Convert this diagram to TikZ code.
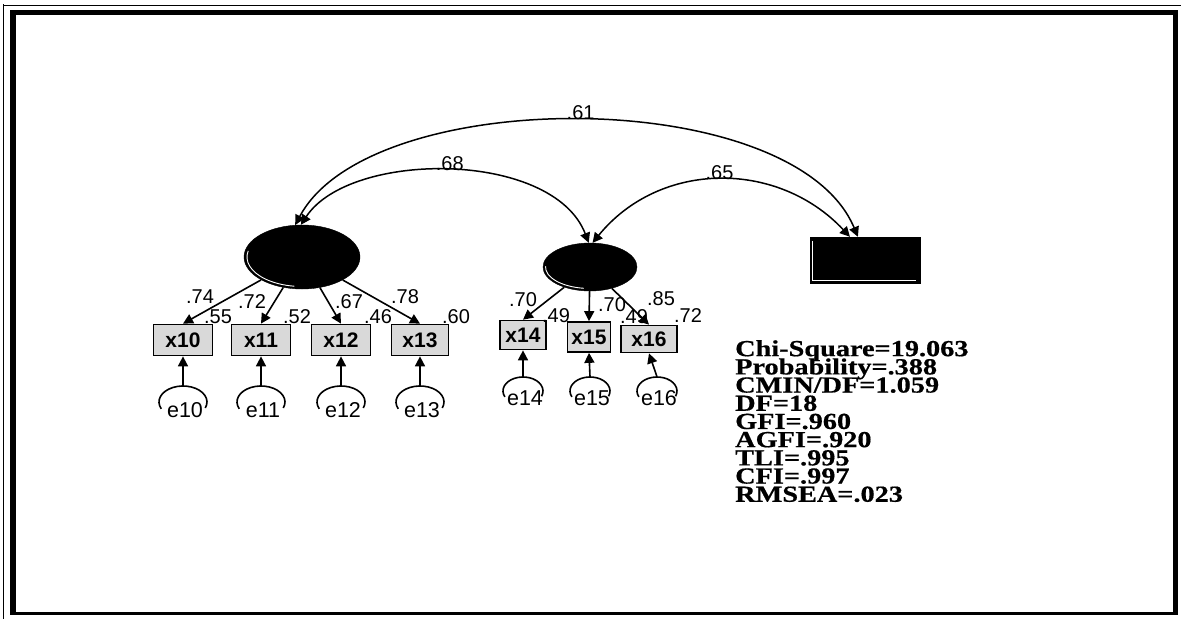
\documentclass[tikz,border=0pt]{standalone}
\usepackage{fontspec}
\setmainfont{Liberation Sans}
\newfontfamily\fitfont[FakeStretch=1.23,FakeBold=0.6]{Liberation Serif}
\newcommand\fitstyle{\fitfont\bfseries\fontsize{23}{18.2}\selectfont\lineskiplimit=-100pt\lineskip=0pt\relax}
\usetikzlibrary{arrows.meta,shapes.geometric}

\begin{document}
\begin{tikzpicture}[x=1pt,y=-1pt,
  latent/.style={ellipse, fill=black, draw=black, inner sep=0pt},
  obs/.style={rectangle, draw=black, line width=1.7pt, fill=gray!30, inner sep=0pt,
    font=\bfseries\fontsize{21}{21}\selectfont},
  errn/.style={ellipse, inner sep=0pt},
  elab/.style={inner sep=0pt, font=\fontsize{21.5}{21.5}\selectfont},
  coef/.style={inner sep=0pt, font=\fontsize{20}{20}\selectfont},
  pathar/.style={line width=1.6pt, -{Triangle[length=10pt,width=10pt]}},
  covar/.style={line width=1.5pt, {Triangle[length=10pt,width=10pt]}-{Triangle[length=10pt,width=10pt]}},
  errarc/.style={line width=1.6pt}
]
\useasboundingbox (0,0) rectangle (1181,619);
\fill[white] (0,0) rectangle (1181,619);

% window frame
\draw[line width=1.3pt] (3.5,4) -- (3.5,619);
\draw[line width=1.3pt] (3,5.5) -- (1181,5.5);
\draw[line width=5.5pt] (13,10) -- (13,615);
\draw[line width=5pt] (10,12.5) -- (1178,12.5);
\draw[line width=4.5pt] (1175.5,10) -- (1175.5,615);
\draw[line width=2.2pt] (10,613.5) -- (1178,613.5);

% latent variables
\node[latent, minimum width=116, minimum height=64] (F1) at (302,257) {};
\node[latent, minimum width=94, minimum height=48] (F2) at (590,267) {};
\node[rectangle, fill=black, draw=black, inner sep=0pt, minimum width=110, minimum height=46] (F3) at (865,260) {};
\draw[white, line width=0.9pt] (F1.center) ++(-168:55 and 29.5) arc[start angle=-168, end angle=-262, x radius=55, y radius=29.5];
\draw[white, line width=0.9pt] (F2.center) ++(-178:44.5 and 21.5) arc[start angle=-178, end angle=-262, x radius=44.5, y radius=21.5];
\draw[white, line width=0.8pt] ([shift={(2.5,4)}]F3.north west) -- ([shift={(2.5,-2.5)}]F3.south west) -- ([shift={(-4,-2.5)}]F3.south east);

% observed indicators
\node[obs, minimum width=59, minimum height=31] (x10) at (183,340) {x10};
\node[obs, minimum width=59, minimum height=31] (x11) at (261,340) {x11};
\node[obs, minimum width=59, minimum height=31] (x12) at (341,340) {x12};
\node[obs, minimum width=57, minimum height=31] (x13) at (420,340) {x13};
\node[obs, minimum width=46, minimum height=29] (x14) at (523,335) {x14};
\node[obs, minimum width=43, minimum height=30] (x15) at (589,337) {x15};
\node[obs, minimum width=56, minimum height=27] (x16) at (649,339) {x16};

% error terms
\foreach \n/\xx in {10/183,11/261,12/341,13/420}{
  \node[errn, minimum width=48, minimum height=32] (e\n) at (\xx,402) {};
  \draw[errarc] (e\n.center) ++(-205:24 and 16) arc[start angle=-205, end angle=22, x radius=24, y radius=16];
  \node[elab] (le\n) at (\xx+2,410) {e\n};
  \draw[pathar] (e\n.north) -- (x\n.south);
}
\foreach \n/\xx in {14/523,15/590,16/657}{
  \node[errn, minimum width=40, minimum height=28] (e\n) at (\xx,391) {};
  \draw[errarc] (e\n.center) ++(-205:20 and 14) arc[start angle=-205, end angle=22, x radius=20, y radius=14];
  \node[elab] (le\n) at (\xx+2,398) {e\n};
  \draw[pathar] (e\n.north) -- (x\n.south);
}

% factor loadings
\foreach \x in {x10,x11,x12,x13}{ \draw[pathar] (F1) -- (\x.north); }
\foreach \x in {x14,x15,x16}{ \draw[pathar] (F2) -- (\x.north); }

\node[coef] (c10) at (200,297) {.74};
\node[coef] (r10) at (218,317) {.55};
\node[coef] (c11) at (252,302) {.72};
\node[coef] (r11) at (297,317) {.52};
\node[coef] (c12) at (349,302) {.67};
\node[coef] (r12) at (378,317) {.46};
\node[coef] (c13) at (405,297) {.78};
\node[coef] (r13) at (456,317) {.60};
\node[coef] (c14) at (523,300) {.70};
\node[coef] (r14) at (556,316) {.49};
\node[coef] (c15) at (612,305) {.70};
\node[coef] (r15) at (634,317) {.49};
\node[coef] (c16) at (661,299) {.85};
\node[coef] (r16) at (688,316) {.72};

% factor correlations
\draw[covar] (F1.102) .. controls (370,84) and (794,84) .. node[coef, anchor=south, pos=0.5] (k13) {.61} (F3.107);
\draw[covar] (F1.92) .. controls (350,150) and (553,150) .. node[coef, anchor=south, pos=0.5] (k12) {.68} (F2.93);
\draw[covar] (F2.84) .. controls (660,160) and (778,160) .. node[coef, anchor=south, pos=0.5] (k23) {.65} (F3.123);

% fit indices
\node[anchor=north west, align=left, inner sep=0pt, font=\fitstyle] (fit) at (735,340)
  {Chi-Square=19.063\\Probability=.388\\CMIN/DF=1.059\\DF=18\\GFI=.960\\AGFI=.920\\TLI=.995\\CFI=.997\\RMSEA=.023};
\end{tikzpicture}
\end{document}
